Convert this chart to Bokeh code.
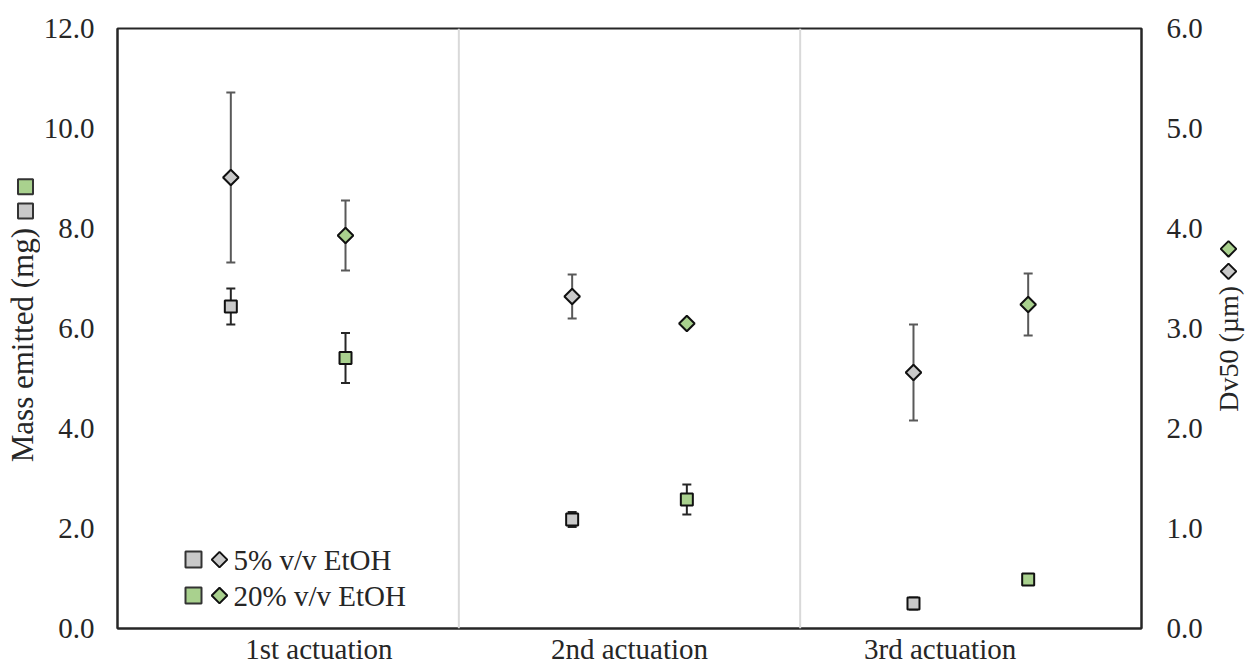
import math

from bokeh.core.properties import value
from bokeh.embed import file_html
from bokeh.layouts import row
from bokeh.models import (ColumnDataSource, FixedTicker, LinearAxis,
                          NumeralTickFormatter, Range1d, Span, TeeHead, Whisker)
from bokeh.plotting import figure
from bokeh.resources import INLINE

# ---- data -------------------------------------------------------------
categories = ["1st actuation", "2nd actuation", "3rd actuation"]
series_names = ["5% v/v EtOH", "20% v/v EtOH"]

# mass emitted (mg), left axis, squares
mass_5 = [6.44, 2.18, 0.50]
mass_5_err = [0.36, 0.15, 0.12]
mass_20 = [5.41, 2.58, 0.98]
mass_20_err = [0.50, 0.30, 0.10]

# Dv50 (µm), right axis, diamonds
dv50_5 = [4.51, 3.32, 2.56]
dv50_5_err = [0.85, 0.22, 0.48]
dv50_20 = [3.93, 3.05, 3.24]
dv50_20_err = [0.35, 0.03, 0.31]

mass_ticks = [0, 2, 4, 6, 8, 10, 12]
dv50_ticks = [0, 1, 2, 3, 4, 5, 6]

# ---- styling ----------------------------------------------------------
FONT = "Liberation Serif"
TXT = "#262626"
GRAY = "#C9C9C9"
GREEN = "#A9D18E"
EDGE = "#111111"
BAR_DIAMOND = "#595959"
BAR_SQUARE = "#262626"
SEP = "#D9D9D9"

DODGE = 0.168                     # series offset inside each category
LABEL_SHIFT = [0.09, 0.0, -0.09]  # category label nudges

H = 667
LEFT_W, MAIN_W, RIGHT_W = 40, 1170, 35

n = len(categories)
x_5 = [i + 0.5 - DODGE for i in range(n)]
x_20 = [i + 0.5 + DODGE for i in range(n)]


def err_source(xs, ys, es):
    return ColumnDataSource(dict(
        x=xs, y=ys,
        lo=[y - e for y, e in zip(ys, es)],
        hi=[y + e for y, e in zip(ys, es)],
    ))


# ---- main chart -------------------------------------------------------
p = figure(width=MAIN_W, height=H, x_range=Range1d(0, n), y_range=Range1d(0, 12),
           output_backend="svg", toolbar_location=None,
           min_border_left=77, min_border_right=69,
           min_border_top=28, min_border_bottom=38)
p.extra_y_ranges = {"dv": Range1d(0, 6)}
p.xgrid.visible = False
p.ygrid.visible = False
p.outline_line_color = TXT
p.outline_line_width = 2
p.background_fill_color = "white"
p.border_fill_color = "white"

# category separators
for i in range(1, n):
    p.add_layout(Span(location=i, dimension="height", line_color=SEP, line_width=2))


def style_axis(ax, standoff):
    ax.axis_line_color = TXT
    ax.axis_line_width = 2
    ax.major_tick_out = 0
    ax.major_tick_in = 0
    ax.minor_tick_out = 0
    ax.minor_tick_in = 0
    ax.major_label_text_font = FONT
    ax.major_label_text_font_size = "29px"
    ax.major_label_text_color = TXT
    ax.major_label_standoff = standoff


# x axis: category names
label_pos = [i + 0.5 + s for i, s in enumerate(LABEL_SHIFT)]
xax = p.xaxis[0]
xax.ticker = FixedTicker(ticks=label_pos)
xax.major_label_overrides = {pos: name for pos, name in zip(label_pos, categories)}
style_axis(xax, 4)

# left axis: mass emitted
yax = p.yaxis[0]
yax.ticker = FixedTicker(ticks=mass_ticks)
yax.formatter = NumeralTickFormatter(format="0.0")
style_axis(yax, 23)

# right axis: Dv50
rax = LinearAxis(y_range_name="dv", ticker=FixedTicker(ticks=dv50_ticks),
                 formatter=NumeralTickFormatter(format="0.0"))
style_axis(rax, 25)
p.add_layout(rax, "right")


def whisker(src, color, range_name="default"):
    w = Whisker(base="x", lower="lo", upper="hi", source=src, dimension="height",
                line_color=color, line_width=2, y_range_name=range_name,
                lower_head=TeeHead(size=9, line_color=color, line_width=2),
                upper_head=TeeHead(size=9, line_color=color, line_width=2))
    p.add_layout(w)


src_m5 = err_source(x_5, mass_5, mass_5_err)
src_m20 = err_source(x_20, mass_20, mass_20_err)
src_d5 = err_source(x_5, dv50_5, dv50_5_err)
src_d20 = err_source(x_20, dv50_20, dv50_20_err)

whisker(src_d5, BAR_DIAMOND, "dv")
whisker(src_d20, BAR_DIAMOND, "dv")
whisker(src_m5, BAR_SQUARE)
whisker(src_m20, BAR_SQUARE)

# squares: mass emitted
p.scatter("x", "y", source=src_m5, marker="square", size=12,
          fill_color=GRAY, line_color=EDGE, line_width=2)
p.scatter("x", "y", source=src_m20, marker="square", size=12,
          fill_color=GREEN, line_color=EDGE, line_width=2)

# diamonds: Dv50
p.scatter("x", "y", source=src_d5, marker="square", angle=math.pi / 4, size=11,
          fill_color=GRAY, line_color=EDGE, line_width=2, y_range_name="dv")
p.scatter("x", "y", source=src_d20, marker="square", angle=math.pi / 4, size=11,
          fill_color=GREEN, line_color=EDGE, line_width=2, y_range_name="dv")

# ---- in-plot legend (placed in pixel offsets from the frame corner) ----
FRAME_W, FRAME_H = 1024, 601
def px_x(px):
    return px / FRAME_W * n


def px_y(py):
    return py / FRAME_H * 12


legend_rows = [(series_names[0], GRAY, 69), (series_names[1], GREEN, 33)]
for name, color, dy in legend_rows:
    p.scatter([px_x(76)], [px_y(dy)], marker="square", size=16,
              fill_color=color, line_color="#333333", line_width=2)
    p.scatter([px_x(102)], [px_y(dy)], marker="square", angle=math.pi / 4, size=11,
              fill_color=color, line_color=EDGE, line_width=2)
    p.text([px_x(116)], [px_y(dy)], text=[name], text_font=value(FONT),
           text_font_size="29px", text_color=TXT, text_baseline="middle",
           text_align="left")

# ---- side panels with axis titles and their series keys ---------------
def side_panel(width):
    f = figure(width=width, height=H, x_range=Range1d(0, width), y_range=Range1d(H, 0),
               output_backend="svg", toolbar_location=None,
               x_axis_type=None, y_axis_type=None, min_border=0)
    f.xgrid.visible = False
    f.ygrid.visible = False
    f.outline_line_color = None
    return f


lf = side_panel(LEFT_W)
lf.text([22], [352], text=["Mass emitted (mg)"], angle=math.pi / 2,
        text_font=value(FONT), text_font_size="31px", text_color=TXT,
        text_align="center", text_baseline="middle")
lf.scatter([25, 25], [176, 203], marker="square", size=15,
           fill_color=[GREEN, GRAY], line_color="#333333", line_width=2)

rf = side_panel(RIGHT_W)
rf.text([18], [356], text=["Dv50 (µm)"], angle=math.pi / 2,
        text_font=value(FONT), text_font_size="28px", text_color=TXT,
        text_align="center", text_baseline="middle")
rf.scatter([18, 18], [245, 270], marker="square", angle=math.pi / 4, size=11,
           fill_color=[GREEN, GRAY], line_color=EDGE, line_width=2)

layout = row(lf, p, rf)

open("out.html", "w").write(file_html(layout, INLINE))
